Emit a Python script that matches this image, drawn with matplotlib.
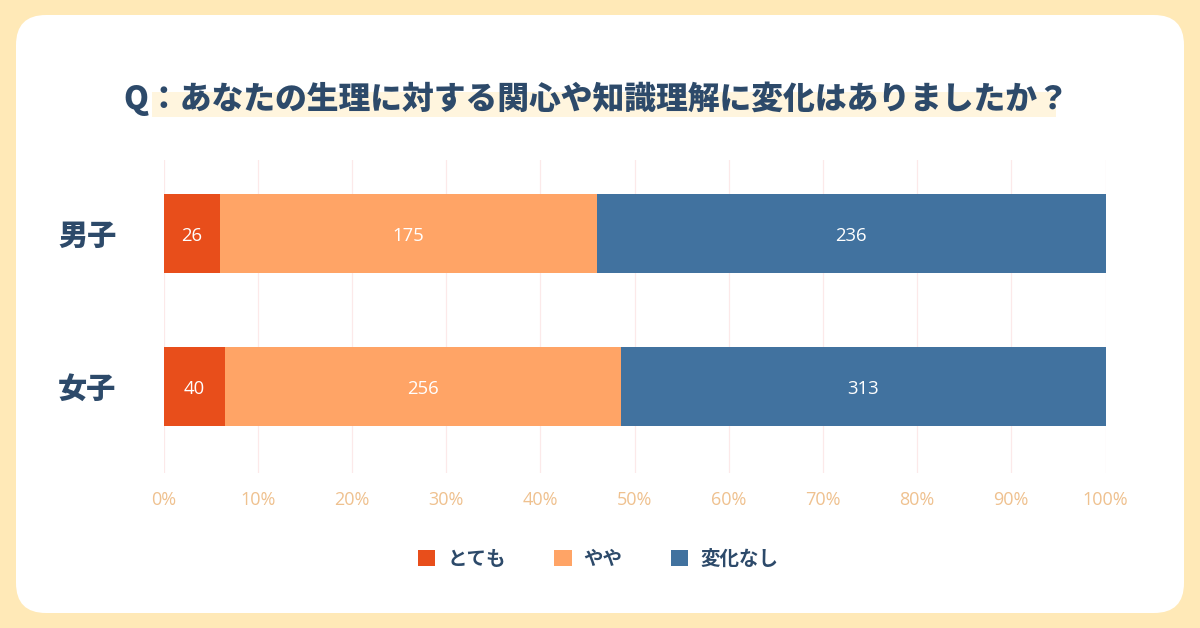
import matplotlib
matplotlib.use("Agg")
import matplotlib.pyplot as plt
from matplotlib.patches import FancyBboxPatch, Rectangle, Patch
import numpy as np

plt.rcParams['font.family'] = ['Noto Sans CJK JP', 'DejaVu Sans']

title = "Q：あなたの生理に対する関心や知識理解に変化はありましたか？"
groups = ["男子", "女子"]
series_names = ["とても", "やや", "変化なし"]
counts = {
    "とても": [26, 40],
    "やや": [175, 256],
    "変化なし": [236, 313],
}
colors = ["#E84E1B", "#FFA466", "#41729F"]
xticks = [0, 10, 20, 30, 40, 50, 60, 70, 80, 90, 100]
xtick_labels = [f"{t}%" for t in xticks]

navy = "#2D4A6A"
tick_color = "#EFC18F"

fig = plt.figure(figsize=(12, 6.28), dpi=100)
fig.patch.set_facecolor("#FFE9B7")

# white card
card = FancyBboxPatch((0.16, 0.15), 11.68, 5.98,
                      boxstyle="round,pad=0,rounding_size=0.3",
                      transform=fig.dpi_scale_trans, facecolor="white",
                      edgecolor="none", zorder=-2)
fig.patches.append(card)

# title highlight band
hl = Rectangle((1.52, 5.11), 9.04, 0.25, transform=fig.dpi_scale_trans,
               facecolor="#FFF5DE", edgecolor="none", zorder=-1)
fig.patches.append(hl)

fig.text(596.5 / 1200, 1 - 98.5 / 628, title, ha="center", va="center",
         fontsize=22.9, fontweight="heavy", color=navy, zorder=2)

ax = fig.add_axes([163.5 / 1200, 1 - 473 / 628, 942 / 1200, 313 / 628])
ax.set_facecolor("none")
ax.set_zorder(1)

totals = np.sum([counts[s] for s in series_names], axis=0)
ypos = np.arange(len(groups))
left = np.zeros(len(groups))
for name, col in zip(series_names, colors):
    vals = np.array(counts[name], dtype=float)
    pct = vals / totals * 100
    bars = ax.barh(ypos, pct, left=left, height=0.516, color=col,
                   edgecolor="none", zorder=3, label=name)
    for b, v in zip(bars, counts[name]):
        cx = b.get_x() + b.get_width() / 2
        cy = b.get_y() + b.get_height() / 2
        ax.annotate(str(v), (cx, cy), xytext=(0, -1.5),
                    textcoords="offset points", ha="center", va="center",
                    color="white", fontsize=13.3,
                    family=["Open Sans", "DejaVu Sans"], zorder=4)
    left += pct

ax.set_xlim(0, 100)
ax.set_ylim(1.565, -0.48)
ax.set_xticks(xticks)
ax.set_xticklabels(xtick_labels, family=["Open Sans", "DejaVu Sans"],
                   fontsize=13, color=tick_color)
ax.set_yticks(ypos)
ax.set_yticklabels(groups, fontsize=21, fontweight="heavy", color=navy,
                   ha="center")
ax.tick_params(axis="y", length=0, pad=55)
ax.tick_params(axis="x", length=0, pad=13)
ax.grid(axis="x", color="#FCE9E9", linewidth=0.9, zorder=0)
ax.grid(axis="y", visible=False)
ax.set_axisbelow(True)
for sp in ax.spines.values():
    sp.set_visible(False)

handles = [Patch(facecolor=c, edgecolor="none", label=n)
           for n, c in zip(series_names, colors)]
leg = fig.legend(handles=handles, loc="center", ncol=3,
                 bbox_to_anchor=(598 / 1200, 1 - 559 / 628), frameon=False,
                 handlelength=0.9, handleheight=0.9, handletextpad=0.6,
                 columnspacing=2.5,
                 prop={"family": ["Noto Sans CJK JP", "DejaVu Sans"],
                       "weight": "bold", "size": 14})
for t in leg.get_texts():
    t.set_color(navy)

fig.savefig("out.png", dpi=100, facecolor=fig.get_facecolor())
